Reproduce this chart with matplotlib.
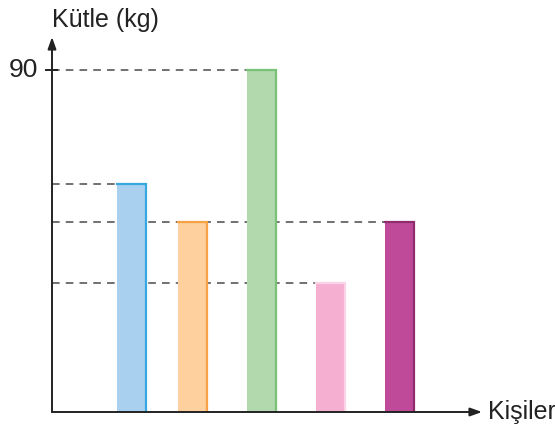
import matplotlib.pyplot as plt

# Data
people = ["A", "B", "C", "D", "E"]
mass = [60, 50, 90, 34, 50]
fill_colors = ["#a9d0ef", "#fdd09d", "#b2d8ad", "#f5afd1", "#c04a9a"]
edge_colors = ["#35a8e0", "#f7a345", "#78c275", "#fbd3e6", "#8e2c6e"]
tick_values = [90]

# layout (x in pixel-like units from the y axis)
x_pos = [79, 140, 209, 278, 347]
bar_w = 29

plt.rcParams['font.family'] = ['Liberation Sans', 'DejaVu Sans']

fig = plt.figure(figsize=(5.55, 4.33), dpi=100)
ax = fig.add_axes([52 / 555, 21 / 433, 430 / 555, 375 / 433])
ax.set_xlim(0, 430)
ax.set_ylim(0, 375 / 3.8)
ax.axis("off")

# dashed guide lines up to the last bar with that value
for i, v in enumerate(mass):
    last = max(j for j, m in enumerate(mass) if m == v)
    if i != last:
        continue
    ax.hlines(v, 0, x_pos[last] - bar_w / 2, colors="#4a4a4a",
              linestyles=(0, (5, 4)), linewidth=1.1, zorder=1)

bars = ax.bar(x_pos, mass, width=bar_w, color=fill_colors, zorder=2)
for b, ec in zip(bars, edge_colors):
    x0 = b.get_x()
    x1 = x0 + b.get_width()
    h = b.get_height()
    ax.plot([x0, x1, x1], [h, h, 0], color=ec, linewidth=1.6, zorder=3,
            solid_joinstyle="miter")

# axes with arrows
arrow = dict(arrowstyle="-|>,head_length=0.7,head_width=0.25",
             color="#222222", lw=1.4, shrinkA=0, shrinkB=0)
ax.annotate("", xy=(0, 1), xytext=(0, 0), xycoords="axes fraction",
            arrowprops=arrow)
ax.annotate("", xy=(1, 0), xytext=(0, 0), xycoords="axes fraction",
            arrowprops=arrow)

for t in tick_values:
    ax.plot([-6, 5], [t, t], color="#222222", linewidth=1.4, clip_on=False)
    ax.text(-14, t, str(t), ha="right", va="center", fontsize=19,
            color="#222222")

ax.text(0, 1.027, "Kütle (kg)", transform=ax.transAxes, ha="left",
        va="baseline", fontsize=18, color="#222222")
ax.text(1.015, 0, "Kişiler", transform=ax.transAxes, ha="left",
        va="center", fontsize=18, color="#222222")

fig.savefig("out.png", dpi=100)
